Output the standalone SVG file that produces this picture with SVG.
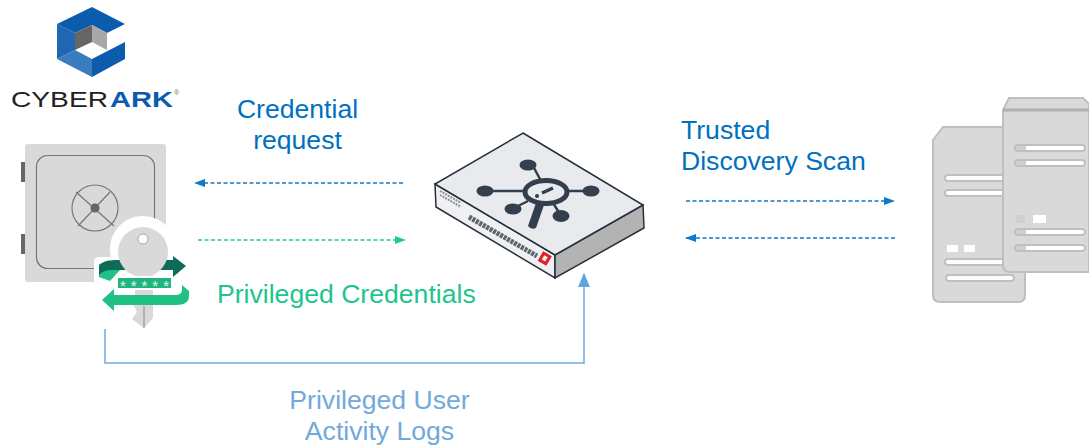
<svg xmlns="http://www.w3.org/2000/svg" width="1089" height="445" viewBox="0 0 1089 445">
<defs>
<style>
text{font-family:"Liberation Sans",Arial,sans-serif}
.lbl{font-size:26.600px}
.dark{fill:#0070c0}.mid{fill:#72a9dc}.grn{fill:#20c58c}
.dash{fill:none;stroke-width:1.500;stroke-dasharray:4 2.500}
.srv{fill:#d9d9d9;stroke:#bfbfbf;stroke-width:2}
.bar{fill:#fff;stroke:#bfbfbf;stroke-width:2}
.cap{fill:#cfcfcf}
.hub{fill:#333f4c}
.spoke{fill:none;stroke:#333f4c;stroke-width:2.500}
</style>
<marker id="aDark" markerWidth="11" markerHeight="8" refX="10" refY="4" orient="auto" markerUnits="userSpaceOnUse"><path d="M0 0L11 4L0 8z" fill="#0f78c8"/></marker>
<marker id="aGrn" markerWidth="11" markerHeight="8" refX="10" refY="4" orient="auto" markerUnits="userSpaceOnUse"><path d="M0 0L11 4L0 8z" fill="#1fc8a0"/></marker>
<marker id="aMid" markerWidth="14" markerHeight="12" refX="13" refY="6" orient="auto" markerUnits="userSpaceOnUse"><path d="M0 0L14 6L0 12z" fill="#5fa5dc"/></marker>
</defs>
<rect width="1089" height="445" fill="#fff"/>

<g id="cyberark-logo">
<path d="M92 7L125 24L107 33L92 25L75 33L57 24z" fill="#0b5cad"/>
<path d="M57 24L75 33V50L57 59z" fill="#1f66b3"/>
<path d="M57 59L75 50L92 59V77z" fill="#3a7cc0"/>
<path d="M92 59L125 42V59L92 77z" fill="#0b5cad"/>
<path d="M75 33L92 25V42L75 50z" fill="#666"/>
<path d="M92 25L107 33V50L92 42z" fill="#a8a8a8"/>
<text x="11" y="107" font-size="22" textLength="97" lengthAdjust="spacingAndGlyphs" fill="#222">CYBER</text>
<text x="110" y="107" font-size="22" font-weight="700" textLength="63" lengthAdjust="spacingAndGlyphs" fill="#0b5cad">ARK</text>
<text x="174" y="95" font-size="7" fill="#777">®</text>
</g>

<g id="vault">
<rect x="25" y="144" width="141" height="138" rx="3" fill="#d9d9d9"/>
<rect x="21" y="162" width="4" height="20" fill="#666"/>
<rect x="21" y="234" width="4" height="20" fill="#666"/>
<rect x="36.500" y="155.500" width="118" height="113" rx="11" fill="none" stroke="#777" stroke-width="1.200"/>
<circle cx="95" cy="208" r="23" fill="none" stroke="#777" stroke-width="1.200"/>
<path d="M76 192L114 226M78 226L110 192" stroke="#777" stroke-width="1.200"/>
<circle cx="95" cy="208" r="4.500" fill="#666"/>
</g>

<g id="credential-key">
<path d="M94 262Q94 257 99 257H111A33 33 0 1 1 175 257H190V316H94z" fill="#fff"/>
<path d="M99 264L108 262L120 270L110 281L99 277z" fill="#20c184"/>
<path d="M99 267Q101 260 116 260H173V256L186 266L173 277V270H112Q103 270 99 275z" fill="#0d6b57"/>
<circle cx="143" cy="252" r="25" fill="#d9d9d9"/>
<circle cx="143" cy="239" r="5" fill="#fff" stroke="#aaa" stroke-width="1"/>
<path d="M135 275H153V318L144 328L132 319L137 312L134 306L135 300z" fill="#d9d9d9"/>
<path d="M144 306V328" stroke="#888" stroke-width="1"/>
<path d="M182 285L189 291V296Q189 305 176 305H114V311L102 300L114 289V295H175Q182 295 182 290z" fill="#20c184"/>
<rect x="117" y="277" width="55" height="12" fill="#20b57e" stroke="#fff" stroke-width="2"/>
<text x="144.500" y="291" font-size="15" text-anchor="middle" fill="#e8f8f0" textLength="49">*****</text>
</g>

<g id="fortinet-device">
<path d="M435 184L555 255V278L436 207z" fill="#f0f0f2" stroke="#25303a" stroke-width="1.500"/>
<path d="M555 255L643 205L644 228L555 278z" fill="#b3b3b3" stroke="#25303a" stroke-width="1.500"/>
<path d="M523 133L643 205L555 255L435 184z" fill="#e9eaee" stroke="#25303a" stroke-width="1.500"/>
<path d="M533 166L541 181M491 191H525M566 191H585M528 201L514 208M553 203L560 214" class="spoke"/>
<ellipse cx="528" cy="165" rx="8.500" ry="5.500" class="hub"/>
<ellipse cx="591" cy="191" rx="8.500" ry="5.500" class="hub"/>
<ellipse cx="485" cy="191" rx="8.500" ry="5.500" class="hub"/>
<ellipse cx="513" cy="209" rx="8.500" ry="5.500" class="hub"/>
<ellipse cx="561" cy="216" rx="8.500" ry="6" class="hub"/>
<path d="M536 203L544 205L536 228Q531 230 528 226z" class="hub"/>
<ellipse cx="546" cy="192" rx="21" ry="11.500" fill="#e9eaee" stroke="#333f4c" stroke-width="5"/>
<path d="M542 193L553 188" stroke="#333f4c" stroke-width="3.500"/>
<circle cx="537" cy="196" r="2" class="hub"/>
<path d="M469 217L537 256" stroke="#5a6670" stroke-width="5" stroke-dasharray="3 1"/>
<rect x="540" y="253" width="10" height="11" fill="#e21f26" transform="rotate(30 545 258)"/>
<rect x="543" y="256" width="4" height="5" fill="#f0f0f2" transform="rotate(30 545 258)"/>
<path d="M440 191L461 203M440 195L461 207" stroke="#8a9096" stroke-width="2" stroke-dasharray="2 1"/>
</g>

<g id="servers">
<path d="M933 140L943 127H1025V295Q1025 302 1018 302H940Q933 302 933 295z" class="srv"/>
<rect x="945" y="175" width="70" height="6" rx="3" class="bar"/>
<rect x="945" y="190" width="70" height="6" rx="3" class="bar"/>
<rect x="947" y="245" width="11" height="7" fill="#fff"/>
<rect x="964" y="245" width="11" height="7" fill="#fff"/>
<rect x="945" y="259" width="70" height="6" rx="3" class="bar"/>
<rect x="946" y="275" width="68" height="6" rx="3" class="bar"/>
<path d="M1003 110L1009 98H1083L1089 104V272H1010Q1003 272 1003 265z" class="srv"/>
<path d="M1003 110H1089" stroke="#b0b0b0" stroke-width="3"/>
<rect x="1015" y="145" width="70" height="6" rx="3" class="bar"/>
<rect x="1015" y="160" width="70" height="6" rx="3" class="bar"/>
<rect x="1016" y="215" width="9" height="8" class="cap"/>
<rect x="1033" y="215" width="13" height="8" fill="#fff"/>
<rect x="1015" y="229" width="70" height="6" rx="3" class="bar"/>
<rect x="1015" y="245" width="70" height="6" rx="3" class="bar"/>
<rect x="1016" y="146" width="10" height="4" class="cap"/>
<rect x="1016" y="161" width="10" height="4" class="cap"/>
<rect x="1016" y="230" width="10" height="4" class="cap"/>
<rect x="1016" y="246" width="10" height="4" class="cap"/>
</g>

<g id="connectors">
<path d="M403 183H195" class="dash" stroke="#0f78c8" marker-end="url(#aDark)"/>
<path d="M198 240H405" class="dash" stroke="#1fc8a0" marker-end="url(#aGrn)"/>
<path d="M686 201H894" class="dash" stroke="#0f78c8" marker-end="url(#aDark)"/>
<path d="M895 238H686" class="dash" stroke="#0f78c8" marker-end="url(#aDark)"/>
<path d="M105 329V363H584V274" fill="none" stroke="#72a9dc" stroke-width="1.500" marker-end="url(#aMid)"/>
</g>

<g id="labels">
<text x="297.500" y="118" text-anchor="middle" class="lbl dark">Credential</text>
<text x="297.500" y="149" text-anchor="middle" class="lbl dark">request</text>
<text x="681" y="139" class="lbl dark">Trusted</text>
<text x="681" y="170" class="lbl dark">Discovery Scan</text>
<text x="217" y="303" class="lbl grn">Privileged Credentials</text>
<text x="379.500" y="409" text-anchor="middle" class="lbl mid">Privileged User</text>
<text x="379.500" y="440" text-anchor="middle" class="lbl mid">Activity Logs</text>
</g>
</svg>
